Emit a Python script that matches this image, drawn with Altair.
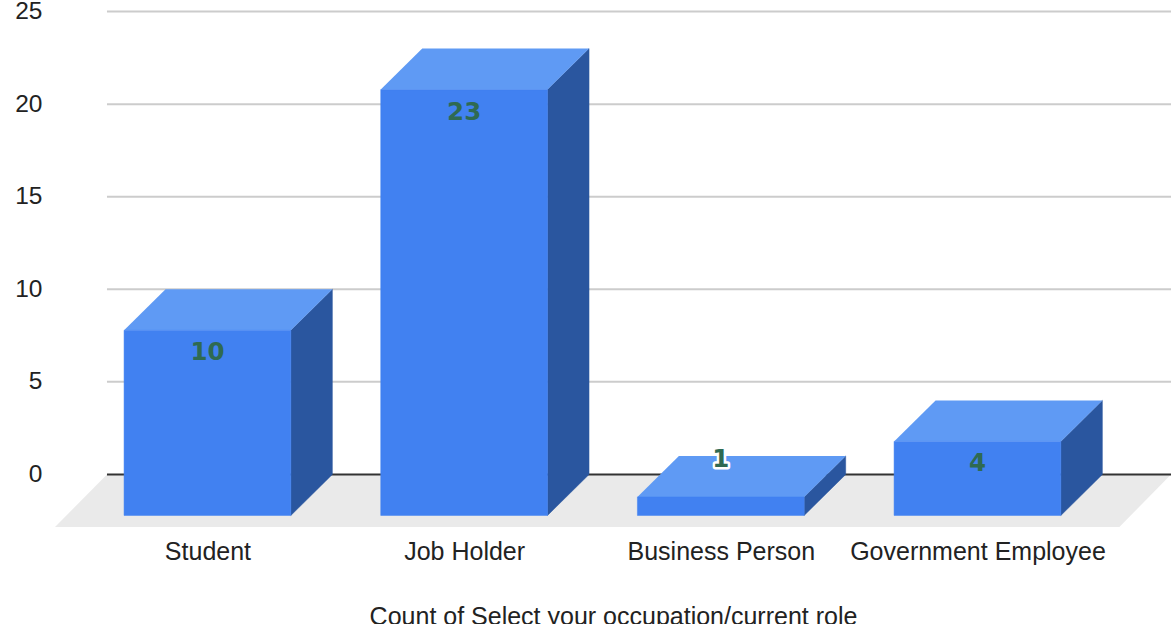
import json

import altair as alt
import pandas as pd

# Survey responses per occupation
categories = ["Student", "Job Holder", "Business Person", "Government Employee"]
counts = [10, 23, 1, 4]
y_ticks = [0, 5, 10, 15, 20, 25]

FONT = "Liberation Sans"
FRONT, TOP, SIDE = "#4181f1", "#5f9af4", "#2a569f"
FLOOR, GRID, BASELINE = "#eaeaea", "#cccccc", "#333333"
LABEL = "#2f6a52"

# Plot frame in pixels and the scale domains that go with it
PLOT_W, PLOT_H = 1116, 516
X_DOMAIN = [-0.594, 3.754]
Y_DOMAIN = [-2.838, 25.03]
PX_X = PLOT_W / (X_DOMAIN[1] - X_DOMAIN[0])
PX_Y = PLOT_H / (Y_DOMAIN[1] - Y_DOMAIN[0])

# Extrusion of each column, in scale units
HALF_W = 83.4 / PX_X
DEPTH_X = 41.5 / PX_X
DEPTH_Y = 41 / PX_Y

rows = []
for i, (name, v) in enumerate(zip(categories, counts)):
    rows.append({"cat": name, "c": i, "v": v})
bars = pd.DataFrame(rows)

front = bars.assign(
    x0=bars.c - HALF_W,
    x1=bars.c + HALF_W,
    y0=-DEPTH_Y,
    y1=bars.v - DEPTH_Y,
)
side = pd.concat(
    [
        bars.assign(x=bars.c + HALF_W, lo=-DEPTH_Y, hi=bars.v - DEPTH_Y),
        bars.assign(x=bars.c + HALF_W + DEPTH_X, lo=0.0, hi=bars.v * 1.0),
    ]
)
top = pd.concat(
    [
        bars.assign(y=bars.v - DEPTH_Y, x0=bars.c - HALF_W, x1=bars.c + HALF_W),
        bars.assign(y=bars.v * 1.0, x0=bars.c - HALF_W + DEPTH_X, x1=bars.c + HALF_W + DEPTH_X),
    ]
)

# Tall columns carry the count on the front face; short ones float it above
INSIDE_DROP = 23 / PX_Y
ABOVE_RISE = 37 / PX_Y
labels = bars.assign(
    ly=[
        v - DEPTH_Y - INSIDE_DROP if v * PX_Y > 40 else v - DEPTH_Y + ABOVE_RISE
        for v in bars.v
    ],
    txt=bars.v.astype(str),
    outside=[v * PX_Y <= 40 for v in bars.v],
)

floor = pd.DataFrame(
    [
        {"y": Y_DOMAIN[0], "x0": X_DOMAIN[0], "x1": 3.553},
        {"y": 0.0, "x0": -0.3915, "x1": X_DOMAIN[1]},
    ]
)
grid = pd.DataFrame({"v": y_ticks, "x0": -0.3915, "x1": X_DOMAIN[1]})

x_scale = alt.Scale(domain=X_DOMAIN, nice=False, zero=False)
y_scale = alt.Scale(domain=Y_DOMAIN, nice=False, zero=False)

x_axis = alt.Axis(
    title="Count of Select your occupation/current role",
    values=list(range(len(categories))),
    labelExpr=json.dumps(categories) + "[datum.value]",
    labelFont=FONT,
    labelFontSize=25,
    labelLimit=400,
    labelColor="#222222",
    labelPadding=12,
    labelOverlap=False,
    titleFont=FONT,
    titleFontSize=25,
    titleFontWeight="normal",
    titleColor="#222222",
    titlePadding=40,
    domain=False,
    ticks=False,
    grid=False,
)
y_axis = alt.Axis(
    title=None,
    values=y_ticks,
    labelFont=FONT,
    labelFontSize=24.5,
    labelColor="#222222",
    labelPadding=13,
    labelOverlap=False,
    domain=False,
    ticks=False,
    grid=False,
)

floor_layer = (
    alt.Chart(floor)
    .mark_area(orient="horizontal", color=FLOOR)
    .encode(
        y=alt.Y("y:Q", scale=y_scale, axis=y_axis),
        x=alt.X("x0:Q", scale=x_scale, axis=x_axis),
        x2="x1:Q",
    )
)
grid_layer = (
    alt.Chart(grid[grid.v > 0])
    .mark_rule(color=GRID, strokeWidth=2)
    .encode(x=alt.X("x0:Q", scale=x_scale), x2="x1:Q", y=alt.Y("v:Q", scale=y_scale))
)
base_layer = (
    alt.Chart(grid[grid.v == 0])
    .mark_rule(color=BASELINE, strokeWidth=2)
    .encode(x=alt.X("x0:Q", scale=x_scale), x2="x1:Q", y=alt.Y("v:Q", scale=y_scale))
)
front_layer = (
    alt.Chart(front)
    .mark_rect(color=FRONT, stroke=FRONT, strokeWidth=0.5)
    .encode(
        x=alt.X("x0:Q", scale=x_scale),
        x2="x1:Q",
        y=alt.Y("y0:Q", scale=y_scale),
        y2="y1:Q",
    )
)
side_layer = (
    alt.Chart(side)
    .mark_area(color=SIDE, stroke=SIDE, strokeWidth=0.5)
    .encode(
        x=alt.X("x:Q", scale=x_scale),
        y=alt.Y("lo:Q", scale=y_scale),
        y2="hi:Q",
        detail="cat:N",
    )
)
top_layer = (
    alt.Chart(top)
    .mark_area(orient="horizontal", color=TOP)
    .encode(
        y=alt.Y("y:Q", scale=y_scale),
        x=alt.X("x0:Q", scale=x_scale),
        x2="x1:Q",
        detail="cat:N",
    )
)
label_enc = dict(
    x=alt.X("c:Q", scale=x_scale),
    y=alt.Y("ly:Q", scale=y_scale),
    text="txt:N",
)
halo_layer = (
    alt.Chart(labels[labels.outside])
    .mark_text(
        font="DejaVu Sans",
        fontWeight="bold",
        fontSize=24.5,
        stroke="white",
        strokeWidth=5,
        strokeJoin="round",
    )
    .encode(**label_enc)
)
label_layer = (
    alt.Chart(labels)
    .mark_text(font="DejaVu Sans", fontWeight="bold", fontSize=24.5, color=LABEL)
    .encode(**label_enc)
)

chart = (
    alt.layer(
        floor_layer,
        grid_layer,
        base_layer,
        side_layer,
        top_layer,
        front_layer,
        halo_layer,
        label_layer,
    )
    .resolve_scale(x="shared", y="shared")
    .properties(
        width=PLOT_W,
        height=PLOT_H,
        autosize=alt.AutoSizeParams(type="none"),
        padding={"left": 55, "top": 11, "right": 0, "bottom": 97},
        background="white",
    )
    .configure_view(stroke=None)
)

chart.save("out.html", embed_options={"renderer": "svg", "actions": False})
